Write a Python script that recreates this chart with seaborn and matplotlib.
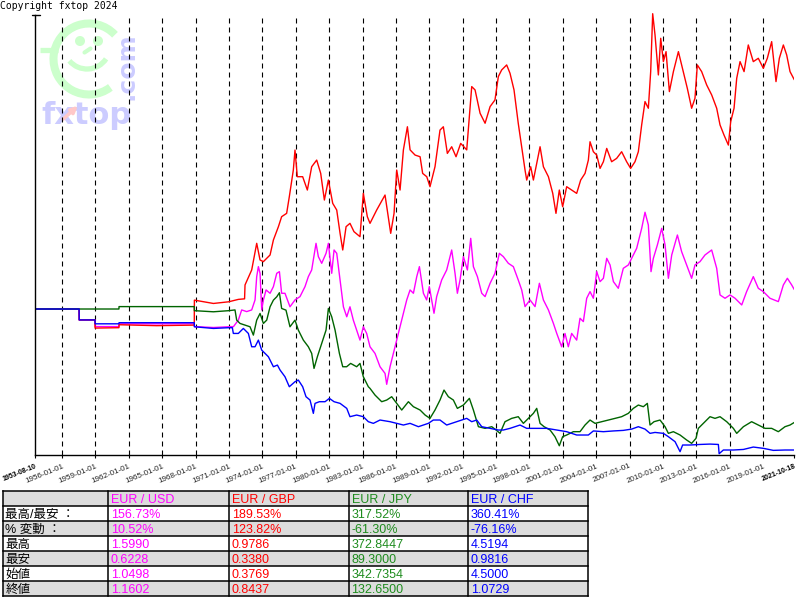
import pandas as pd
import numpy as np
import matplotlib
matplotlib.use("Agg")
import matplotlib.pyplot as plt
import seaborn as sns
from matplotlib.patches import Rectangle, Arc, Circle

# ---------------- data (index, start = 100; x = decimal year) ----------------
usd_points = [
    (1953.607, 100.0), (1957.53, 100.0), (1957.54, 94.1), (1958.96, 94.1), (1958.97, 90.5),
    (1961.11, 90.5), (1961.12, 92.0), (1967.88, 92.0), (1967.89, 90.5), (1969.60, 90.0),
    (1971.30, 90.5), (1971.39, 90.4), (1971.84, 94.0), (1972.14, 99.5), (1972.59, 98.6),
    (1973.04, 99.5), (1973.34, 104.9), (1973.49, 117.5), (1973.64, 122.9), (1973.79, 119.3),
    (1973.94, 99.5), (1974.09, 104.9), (1974.33, 110.3), (1974.69, 108.5), (1974.99, 112.1),
    (1975.29, 119.3), (1975.53, 120.2), (1975.73, 108.5), (1976.03, 108.5), (1976.48, 101.2),
    (1976.93, 104.9), (1977.38, 106.7), (1977.83, 112.1), (1978.13, 117.5), (1978.43, 121.1),
    (1978.82, 135.5), (1979.03, 128.3), (1979.33, 124.7), (1979.72, 130.1), (1979.93, 135.5),
    (1980.23, 119.3), (1980.44, 131.9), (1980.68, 130.1), (1980.98, 115.7), (1981.28, 101.2),
    (1981.58, 95.8), (1981.87, 101.2), (1982.17, 94.0), (1982.47, 88.6), (1982.77, 83.2),
    (1983.07, 90.4), (1983.37, 86.8), (1983.67, 79.6), (1984.12, 76.0), (1984.57, 68.8),
    (1985.02, 65.2), (1985.17, 59.3), (1985.47, 68.8), (1985.77, 76.0), (1986.07, 83.2),
    (1986.37, 90.4), (1986.67, 97.7), (1986.97, 104.9), (1987.27, 110.3), (1987.57, 108.5),
    (1987.87, 117.5), (1988.11, 122.9), (1988.47, 108.5), (1988.76, 104.9), (1989.00, 112.1),
    (1989.42, 97.7), (1989.66, 106.7), (1990.11, 115.7), (1990.56, 121.1), (1991.01, 131.9),
    (1991.31, 119.3), (1991.52, 108.5), (1991.76, 115.7), (1992.06, 128.3), (1992.42, 121.1),
    (1992.72, 138.2), (1992.96, 122.9), (1993.32, 117.5), (1993.71, 108.5), (1994.01, 106.7),
    (1994.46, 113.9), (1994.90, 119.3), (1995.29, 130.1), (1995.65, 128.3), (1996.10, 124.7),
    (1996.55, 122.9), (1996.99, 115.7), (1997.30, 110.3), (1997.60, 101.3), (1998.05, 104.9),
    (1998.50, 101.3), (1998.89, 113.9), (1999.25, 104.9), (1999.70, 99.5), (2000.15, 92.2),
    (2000.45, 86.8), (2000.89, 79.6), (2001.19, 86.8), (2001.49, 79.6), (2001.79, 86.8),
    (2002.24, 83.2), (2002.54, 95.0), (2002.84, 93.2), (2003.14, 105.8), (2003.44, 109.4),
    (2003.74, 105.8), (2004.04, 120.2), (2004.34, 114.8), (2004.64, 116.6), (2004.94, 127.4),
    (2005.24, 123.8), (2005.54, 114.8), (2005.98, 111.2), (2006.43, 122.0), (2006.88, 123.8),
    (2007.18, 127.4), (2007.63, 132.8), (2008.08, 143.6), (2008.38, 152.3), (2008.68, 145.4),
    (2008.92, 120.2), (2009.13, 127.4), (2009.49, 134.6), (2009.88, 143.6), (2010.18, 134.6),
    (2010.48, 116.6), (2010.78, 129.2), (2011.29, 140.0), (2011.67, 131.0), (2012.12, 123.8),
    (2012.57, 116.6), (2012.87, 123.8), (2013.32, 125.6), (2013.77, 129.2), (2014.37, 131.9),
    (2014.82, 122.0), (2015.12, 107.6), (2015.57, 105.8), (2016.02, 107.6), (2016.47, 105.8),
    (2017.07, 102.2), (2017.51, 109.4), (2018.11, 117.5), (2018.56, 111.2), (2019.01, 109.4),
    (2019.61, 105.8), (2020.36, 104.0), (2020.81, 113.0), (2021.17, 116.6), (2021.56, 113.0),
    (2021.794, 110.5),
]

gbp_points = [
    (1953.607, 100.0), (1957.53, 100.0), (1957.54, 94.1), (1958.96, 94.1), (1958.97, 89.7),
    (1961.11, 89.9), (1961.12, 91.5), (1964.50, 91.0), (1967.88, 91.3), (1967.89, 104.8),
    (1969.60, 103.0), (1970.97, 103.9), (1971.84, 105.2), (1972.40, 105.5), (1972.44, 113.0),
    (1973.04, 121.1), (1973.49, 135.5), (1973.79, 126.5), (1974.09, 125.6), (1974.69, 129.2),
    (1974.99, 137.3), (1975.44, 144.5), (1975.73, 149.9), (1976.18, 151.7), (1976.42, 160.7),
    (1976.78, 175.1), (1976.93, 185.9), (1977.14, 171.5), (1977.62, 171.5), (1978.04, 164.3),
    (1978.43, 176.9), (1978.88, 180.5), (1979.24, 173.3), (1979.57, 158.9), (1979.93, 169.7),
    (1980.32, 157.1), (1980.68, 153.5), (1980.98, 140.9), (1981.22, 131.9), (1981.52, 144.5),
    (1981.87, 146.3), (1982.23, 141.8), (1982.77, 139.1), (1983.07, 162.5), (1983.43, 149.9),
    (1983.67, 146.3), (1984.27, 153.5), (1985.02, 161.6), (1985.53, 140.9), (1985.83, 151.7),
    (1986.07, 175.1), (1986.37, 164.3), (1986.67, 186.0), (1987.03, 198.5), (1987.27, 186.0),
    (1987.72, 183.2), (1988.17, 182.3), (1988.40, 173.3), (1988.77, 171.5), (1989.06, 166.1),
    (1989.51, 176.9), (1989.96, 196.7), (1990.26, 198.5), (1990.62, 184.1), (1991.01, 187.7),
    (1991.40, 182.3), (1991.82, 189.5), (1992.36, 186.0), (1992.81, 220.2), (1993.11, 218.4),
    (1993.56, 205.8), (1994.01, 200.4), (1994.46, 209.4), (1994.90, 213.0), (1995.20, 225.6),
    (1995.50, 229.2), (1995.95, 231.9), (1996.25, 227.4), (1996.61, 218.4), (1996.99, 200.4),
    (1997.30, 187.7), (1997.60, 175.1), (1997.75, 169.7), (1998.11, 176.9), (1998.35, 169.7),
    (1998.65, 178.7), (1998.95, 187.7), (1999.25, 176.9), (1999.70, 171.5), (2000.09, 162.5),
    (2000.38, 151.7), (2000.68, 164.3), (2000.98, 155.3), (2001.34, 166.1), (2001.79, 164.3),
    (2002.24, 162.5), (2002.60, 169.7), (2002.99, 173.3), (2003.29, 180.5), (2003.44, 190.4),
    (2003.74, 185.0), (2004.04, 183.2), (2004.34, 176.0), (2004.64, 179.6), (2004.94, 186.8),
    (2005.38, 179.6), (2005.83, 181.4), (2006.28, 185.0), (2006.73, 179.6), (2007.09, 176.0),
    (2007.48, 179.6), (2007.78, 185.0), (2008.08, 199.5), (2008.38, 212.1), (2008.68, 208.5),
    (2008.89, 228.3), (2009.07, 259.6), (2009.28, 248.1), (2009.58, 226.5), (2009.79, 246.3),
    (2010.03, 233.7), (2010.27, 239.1), (2010.57, 217.5), (2010.93, 228.3), (2011.38, 239.1),
    (2011.82, 228.3), (2012.18, 219.3), (2012.57, 208.5), (2012.87, 213.9), (2013.08, 231.9),
    (2013.47, 228.3), (2013.92, 221.1), (2014.37, 215.7), (2014.82, 208.5), (2015.12, 199.5),
    (2015.48, 194.0), (2015.87, 188.6), (2016.08, 201.3), (2016.38, 208.5), (2016.62, 224.7),
    (2016.92, 233.7), (2017.28, 228.3), (2017.66, 242.7), (2018.11, 233.7), (2018.56, 235.5),
    (2019.01, 230.1), (2019.37, 235.5), (2019.76, 244.5), (2020.15, 222.9), (2020.45, 235.5),
    (2020.81, 242.7), (2021.11, 237.3), (2021.41, 228.3), (2021.794, 223.9),
]

jpy_points = [
    (1953.607, 100.0), (1961.11, 100.0), (1961.12, 101.3), (1967.88, 101.3), (1967.89, 99.1),
    (1969.60, 98.5), (1970.97, 99.1), (1971.54, 99.5), (1971.69, 94.0), (1971.99, 92.2),
    (1972.44, 91.3), (1972.89, 90.4), (1973.19, 85.9), (1973.49, 94.0), (1973.79, 97.6),
    (1974.09, 92.2), (1974.39, 94.0), (1974.69, 101.2), (1974.99, 104.8), (1975.29, 106.6),
    (1975.53, 108.8), (1975.73, 100.3), (1976.12, 99.4), (1976.48, 90.4), (1976.93, 94.0),
    (1977.23, 88.6), (1977.68, 83.2), (1978.13, 79.6), (1978.43, 76.0), (1978.64, 67.9),
    (1978.94, 74.2), (1979.33, 81.4), (1979.72, 88.6), (1979.93, 100.3), (1980.23, 95.8),
    (1980.53, 88.6), (1980.92, 76.0), (1981.22, 68.8), (1981.57, 68.8), (1981.93, 70.6),
    (1982.47, 68.8), (1982.77, 70.6), (1983.07, 63.4), (1983.52, 58.0), (1983.67, 57.1),
    (1984.12, 53.5), (1984.72, 49.9), (1985.17, 50.8), (1985.62, 52.6), (1986.07, 49.0),
    (1986.52, 45.4), (1987.12, 49.9), (1987.57, 47.2), (1988.17, 45.4), (1988.62, 42.7),
    (1989.06, 40.9), (1989.51, 45.4), (1989.96, 50.8), (1990.32, 56.2), (1990.71, 52.6),
    (1991.16, 50.8), (1991.52, 46.3), (1992.06, 48.1), (1992.60, 51.7), (1992.96, 45.4),
    (1993.41, 36.4), (1994.01, 35.5), (1994.61, 36.4), (1995.00, 34.6), (1995.35, 32.8),
    (1995.80, 39.1), (1996.40, 40.9), (1996.99, 41.8), (1997.45, 38.2), (1997.90, 40.9),
    (1998.35, 43.6), (1998.65, 46.3), (1998.95, 38.2), (1999.31, 36.4), (1999.85, 34.6),
    (2000.29, 31.0), (2000.68, 26.1), (2000.98, 31.0), (2001.34, 31.9), (2001.94, 33.7),
    (2002.54, 33.7), (2002.99, 37.3), (2003.44, 40.0), (2003.89, 38.2), (2004.49, 39.1),
    (2005.09, 40.0), (2005.69, 40.9), (2006.28, 41.8), (2006.88, 43.6), (2007.33, 46.3),
    (2007.78, 48.1), (2008.23, 47.2), (2008.59, 49.0), (2008.83, 37.3), (2009.19, 39.1),
    (2009.73, 40.0), (2010.18, 36.4), (2010.48, 32.8), (2010.93, 33.7), (2011.53, 31.9),
    (2012.12, 29.2), (2012.57, 27.4), (2012.96, 30.1), (2013.17, 35.5), (2013.77, 39.1),
    (2014.22, 41.8), (2014.67, 40.9), (2015.12, 41.8), (2015.72, 39.1), (2016.32, 35.5),
    (2016.62, 32.8), (2017.22, 36.4), (2017.96, 39.1), (2018.56, 37.3), (2019.16, 35.5),
    (2019.76, 35.5), (2020.36, 33.7), (2020.96, 36.4), (2021.41, 37.3), (2021.794, 38.7),
]

chf_points = [
    (1953.607, 100.0), (1957.53, 100.0), (1957.54, 94.1), (1958.96, 94.1), (1958.97, 92.0),
    (1961.11, 92.0), (1961.12, 92.6), (1967.88, 92.6), (1967.89, 90.4), (1969.60, 89.5),
    (1970.97, 89.9), (1971.30, 89.9), (1971.39, 86.8), (1971.84, 86.8), (1972.29, 89.5),
    (1972.74, 86.8), (1973.04, 79.6), (1973.34, 79.6), (1973.64, 83.2), (1973.94, 77.8),
    (1974.24, 76.0), (1974.54, 74.2), (1974.99, 68.8), (1975.35, 69.7), (1975.59, 67.0),
    (1976.03, 63.4), (1976.42, 58.0), (1976.93, 60.7), (1977.23, 61.6), (1977.62, 58.0),
    (1977.92, 52.6), (1978.28, 50.8), (1978.58, 43.6), (1978.73, 49.0), (1979.12, 49.9),
    (1979.63, 49.9), (1980.02, 51.7), (1980.44, 49.9), (1980.98, 49.0), (1981.58, 46.3),
    (1981.87, 41.8), (1982.47, 42.7), (1983.07, 41.8), (1983.52, 39.1), (1983.97, 38.2),
    (1984.57, 40.0), (1985.47, 39.1), (1986.07, 38.2), (1986.67, 37.3), (1987.27, 38.2),
    (1988.02, 36.4), (1988.91, 38.2), (1989.36, 40.0), (1989.96, 40.0), (1990.56, 37.3),
    (1991.46, 39.1), (1992.36, 40.9), (1992.81, 39.1), (1993.26, 40.0), (1993.71, 36.4),
    (1994.46, 35.5), (1995.20, 34.6), (1995.65, 34.6), (1996.25, 35.5), (1997.15, 37.3),
    (1997.75, 35.5), (1998.65, 35.5), (1999.55, 35.5), (2000.45, 34.6), (2001.34, 33.7),
    (2002.24, 31.9), (2003.29, 31.9), (2003.74, 34.1), (2004.64, 33.7), (2005.54, 34.1),
    (2006.43, 34.4), (2007.18, 35.1), (2007.78, 36.4), (2008.38, 35.1), (2008.83, 32.8),
    (2009.28, 33.3), (2010.03, 32.8), (2010.48, 31.0), (2011.08, 28.3), (2011.53, 22.9),
    (2011.76, 26.5), (2012.42, 26.5), (2013.32, 26.8), (2014.22, 27.0), (2014.97, 26.8),
    (2015.04, 21.8), (2015.42, 23.8), (2016.32, 23.8), (2017.22, 24.1), (2018.11, 25.4),
    (2019.01, 24.7), (2019.91, 23.6), (2020.96, 23.8), (2021.794, 23.8),
]

pairs = ["EUR / USD", "EUR / GBP", "EUR / JPY", "EUR / CHF"]
line_colors = ["#ff00ff", "#ff0000", "#006400", "#0000ff"]
text_colors = ["#ff00ff", "#ff0000", "#1e8c1e", "#0000ff"]

tick_labels = ["1953-08-10", "1956-01-01", "1959-01-01", "1962-01-01", "1965-01-01",
               "1968-01-01", "1971-01-01", "1974-01-01", "1977-01-01", "1980-01-01",
               "1983-01-01", "1986-01-01", "1989-01-01", "1992-01-01", "1995-01-01",
               "1998-01-01", "2001-01-01", "2004-01-01", "2007-01-01", "2010-01-01",
               "2013-01-01", "2016-01-01", "2019-01-01", "2021-10-18"]

row_labels = ["最高/最安 ：", "% 変動 ：", "最高", "最安", "始値", "終値"]
usd_stats = ["156.73%", "10.52%", "1.5990", "0.6228", "1.0498", "1.1602"]
gbp_stats = ["189.53%", "123.82%", "0.9786", "0.3380", "0.3769", "0.8437"]
jpy_stats = ["317.52%", "-61.30%", "372.8447", "89.3000", "342.7354", "132.6500"]
chf_stats = ["360.41%", "-76.16%", "4.5194", "0.9816", "4.5000", "1.0729"]

# ---------------- setup ----------------
sns.set_theme(style="white")
plt.rcParams["font.family"] = ["Liberation Sans", "Noto Sans CJK JP", "DejaVu Sans"]


def dec_year(s):
    ts = pd.Timestamp(s)
    return ts.year + (ts.dayofyear - 1) / 365.25


tick_pos = [dec_year(s) for s in tick_labels]

W, H = 800, 600
fig = plt.figure(figsize=(8, 6), dpi=100)
fig.patch.set_facecolor("white")

# overlay axes in pixel coordinates (logo, table, caption)
ov = fig.add_axes([0, 0, 1, 1])
ov.set_xlim(0, W)
ov.set_ylim(H, 0)
ov.axis("off")
ov.set_zorder(0)

# watermark logo
lg_green = "#ccffcc"
lg_blue = "#ccccff"
lg_pink = "#ffc8c8"
ov.add_patch(Arc((89, 59), 71, 71, theta1=53, theta2=317, color=lg_green, lw=5.8))
ov.plot([40, 58], [50, 50], color=lg_green, lw=3.8, solid_capstyle="butt")
ov.add_patch(Circle((80, 41), 4.3, color=lg_green))
ov.add_patch(Circle((98, 41), 4.3, color=lg_green))
ov.plot([84.5, 90.5], [52.5, 48.5], color=lg_green, lw=3.0, solid_capstyle="round")
ov.add_patch(Arc((87, 46), 46, 46, theta1=34, theta2=140, color=lg_green, lw=3.8))
ov.text(41, 124, "fxtop", fontsize=22, fontweight="bold", family="DejaVu Sans",
        color=lg_blue, ha="left", va="baseline")
ov.text(139, 100, ".com", fontsize=18, fontweight="bold", family="DejaVu Sans",
        color=lg_blue, rotation=90, ha="right", va="bottom")
ov.annotate("", xy=(80, 104), xytext=(61, 121),
            arrowprops=dict(arrowstyle="-|>", color=lg_pink, lw=2.5, mutation_scale=9))

ov.text(0, 1, "Copyright fxtop 2024", family="DejaVu Sans Mono", fontsize=7,
        ha="left", va="top", color="black")

# ---------------- main chart ----------------
x0_px, x1_px = 35.4, 794.3
y_top_px, y_bot_px = 10.0, 455.0
ax = fig.add_axes([x0_px / W, 1 - y_bot_px / H, (x1_px - x0_px) / W, (y_bot_px - y_top_px) / H])
ax.set_zorder(1)
ax.patch.set_alpha(0)

series = [usd_points, gbp_points, jpy_points, chf_points]
df = pd.concat([pd.DataFrame(p, columns=["year", "index"]).assign(pair=n)
                for n, p in zip(pairs, series)], ignore_index=True)

y_lo, y_hi = 21.1, 261.6
y_axis_top = 258.9

ax.vlines(tick_pos[1:-1], y_lo, y_axis_top, colors="black",
          linestyles=[(0, (4.5, 3.6))], linewidth=0.8, zorder=0.5)

sns.lineplot(data=df, x="year", y="index", hue="pair", hue_order=pairs,
             palette=dict(zip(pairs, line_colors)), estimator=None, linewidth=1.0,
             legend=False, ax=ax, zorder=2)

ax.set_xlim(tick_pos[0], tick_pos[-1])
ax.set_ylim(y_lo, y_hi)
ax.set_xlabel("")
ax.set_ylabel("")
ax.set_yticks([])
for s in ["top", "right"]:
    ax.spines[s].set_visible(False)
for s in ["left", "bottom"]:
    ax.spines[s].set_color("black")
    ax.spines[s].set_linewidth(1.0)
ax.spines["left"].set_bounds(y_lo, y_axis_top)
ov.plot([31.5, 39.5], [15, 15], color="black", lw=1.0)

ax.set_xticks(tick_pos)
ax.set_xticklabels(tick_labels, rotation=22, ha="right", rotation_mode="anchor",
                   fontsize=5.8, color="#222222")
ax.tick_params(axis="x", direction="out", length=2.5, width=0.8, pad=3,
               colors="black", bottom=True)
labels = ax.get_xticklabels()
for lbl in labels:
    lbl.set_color("#222222")
for i in (0, -1):
    labels[i].set_fontweight("bold")
    labels[i].set_fontsize(5.0)
    labels[i].set_color("black")

# ---------------- table ----------------
cols_x = [3.3, 108.3, 229.3, 349.0, 468.3, 588.3]
rows_y = [491.0, 505.7, 520.7, 535.7, 550.7, 565.7, 580.7, 595.7]
grey = "#dcdcdc"
stats = [usd_stats, gbp_stats, jpy_stats, chf_stats]

for r in range(len(rows_y) - 1):
    ytop, ybot = rows_y[r], rows_y[r + 1]
    fill = grey if r % 2 == 0 else "white"
    ov.add_patch(Rectangle((cols_x[0], ytop), cols_x[-1] - cols_x[0], ybot - ytop,
                           facecolor=fill, edgecolor="none", zorder=1))
    if r > 0:
        ov.text(cols_x[0] + 2, ybot - 2.4, row_labels[r - 1], fontsize=9, color="black",
                ha="left", va="baseline", zorder=3)
    for c in range(4):
        txt = pairs[c] if r == 0 else stats[c][r - 1]
        ov.text(cols_x[c + 1] + 2.5, ybot - 2.4, txt, fontsize=9, color=text_colors[c],
                ha="left", va="baseline", zorder=3)

for yy in rows_y:
    ov.plot([cols_x[0], cols_x[-1]], [yy, yy], color="black", lw=1.1, zorder=2,
            solid_capstyle="projecting")
for xx in cols_x:
    ov.plot([xx, xx], [rows_y[0], rows_y[-1]], color="black", lw=1.1, zorder=2,
            solid_capstyle="projecting")

fig.savefig("out.png", dpi=100)
